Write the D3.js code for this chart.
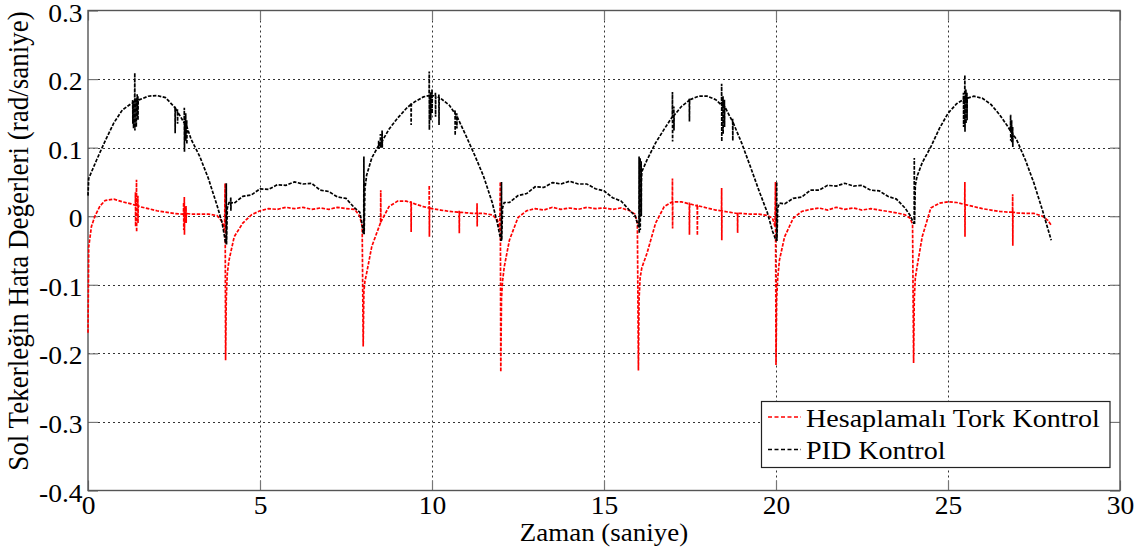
<!DOCTYPE html>
<html><head><meta charset="utf-8">
<script src="https://cdn.jsdelivr.net/npm/d3@7"></script>
<style>body{margin:0;background:#fff}svg{display:block}</style>
</head><body>
<svg id="c" width="1143" height="553"></svg>
<script>
// ---------- data ----------
const xTicks = [0, 5, 10, 15, 20, 25, 30];
const xTickLabels = ["0", "5", "10", "15", "20", "25", "30"];
const yTicks = [-0.4, -0.3, -0.2, -0.1, 0, 0.1, 0.2, 0.3];
const yTickLabels = ["-0.4", "-0.3", "-0.2", "-0.1", "0", "0.1", "0.2", "0.3"];
const seriesNames = ["Hesaplamalı Tork Kontrol", "PID Kontrol"];
const xTitle = "Zaman (saniye)";
const yTitle = "Sol Tekerleğin Hata Değerleri (rad/saniye)";

// PID Kontrol: [time, value]
const pidBase = [
[0,0.030],[0.02,0.055],[0.25,0.082],[0.5,0.110],[0.75,0.136],[1.0,0.155],[1.25,0.164],[1.5,0.170],[1.75,0.175],[2.0,0.176],
[2.25,0.173],[2.5,0.160],[2.75,0.140],[3.0,0.112],[3.25,0.087],[3.5,0.055],[3.75,0.016],[3.9,-0.010],[3.97,-0.030],[4.0,-0.040],
[4.05,0.012],[4.1,0.020],[4.25,0.019],[4.5,0.029],[4.75,0.031],[5.0,0.040],[5.25,0.039],[5.5,0.046],[5.75,0.045],[6.0,0.050],
[6.25,0.047],[6.5,0.048],[6.75,0.038],[7.0,0.036],[7.25,0.028],[7.5,0.026],[7.75,0.012],[7.9,0.006],[7.97,-0.012],[8.0,-0.025],
[8.05,0.040],[8.1,0.060],[8.25,0.085],[8.5,0.107],[8.75,0.127],[9.0,0.143],[9.25,0.157],[9.5,0.167],[9.75,0.174],[10.0,0.176],
[10.25,0.172],[10.5,0.162],[10.75,0.143],[11.0,0.116],[11.25,0.088],[11.5,0.058],[11.75,0.020],[11.9,-0.010],[12.0,-0.035],
[12.05,0.012],[12.1,0.020],[12.25,0.020],[12.5,0.030],[12.75,0.033],[13.0,0.043],[13.25,0.042],[13.5,0.049],[13.75,0.047],[14.0,0.051],
[14.25,0.047],[14.5,0.047],[14.75,0.040],[15.0,0.037],[15.25,0.027],[15.5,0.022],[15.75,0.008],[15.9,0.001],[16.0,-0.015],
[16.1,0.065],[16.25,0.082],[16.5,0.107],[16.75,0.127],[17.0,0.145],[17.25,0.160],[17.5,0.170],[17.75,0.175],[18.0,0.175],
[18.25,0.170],[18.5,0.160],[18.75,0.137],[19.0,0.107],[19.25,0.073],[19.5,0.038],[19.75,0.005],[19.9,-0.022],[20.0,-0.035],
[20.05,0.012],[20.1,0.019],[20.25,0.018],[20.5,0.026],[20.75,0.028],[21.0,0.038],[21.25,0.038],[21.5,0.045],[21.75,0.044],[22.0,0.048],
[22.25,0.044],[22.5,0.045],[22.75,0.038],[23.0,0.037],[23.25,0.029],[23.5,0.025],[23.75,0.012],[23.9,0.001],[24.0,-0.010],
[24.05,0.045],[24.1,0.058],[24.25,0.078],[24.5,0.101],[24.75,0.128],[25.0,0.150],[25.25,0.164],[25.5,0.172],[25.75,0.175],[26.0,0.172],
[26.25,0.163],[26.5,0.148],[26.75,0.130],[27.0,0.111],[27.25,0.082],[27.5,0.048],[27.75,0.008],[28.0,-0.035]
];
// PID spikes: [time, base, high, low]
const pidSpikes = [
[1.30,0.165,0.170,0.135],[1.32,0.166,0.168,0.128],[1.36,0.167,0.209,0.125],[1.40,0.168,0.172,0.130],[1.43,0.168,0.178,0.145],[1.45,0.169,0.175,0.140],
[2.53,0.158,0.160,0.121],[2.60,0.152,0.156,0.135],[2.80,0.136,0.158,0.094],[2.84,0.133,0.150,0.110],[2.87,0.130,0.140,0.105],
[4.02,-0.040,0.048,-0.040],[4.15,0.020,0.028,0.008],[8.02,-0.025,0.087,-0.025],
[8.45,0.103,0.110,0.098],[8.50,0.107,0.120,0.100],[8.55,0.110,0.125,0.100],[9.39,0.163,0.165,0.133],[9.92,0.176,0.211,0.126],
[9.96,0.176,0.182,0.140],[10.0,0.176,0.185,0.150],[10.1,0.175,0.180,0.145],[10.2,0.173,0.178,0.133],[10.67,0.150,0.155,0.118],[10.72,0.146,0.150,0.128],
[12.02,-0.035,0.050,-0.035],
[16.02,-0.015,0.087,-0.025],[16.05,0.030,0.085,-0.020],[16.08,0.050,0.080,0.000],
[16.99,0.145,0.181,0.109],[17.03,0.147,0.160,0.125],[17.48,0.169,0.172,0.138],[18.42,0.162,0.193,0.109],[18.46,0.161,0.175,0.120],
[18.5,0.160,0.170,0.130],[18.74,0.138,0.142,0.110],
[20.02,-0.035,0.050,-0.035],[24.02,-0.010,0.085,-0.010],
[25.45,0.170,0.180,0.130],[25.49,0.171,0.206,0.123],[25.52,0.171,0.185,0.135],[25.55,0.172,0.180,0.140],
[26.82,0.124,0.148,0.110],[26.85,0.122,0.140,0.108],[26.88,0.120,0.130,0.101]
];

// Hesaplamalı Tork Kontrol: [time, value]
const ctcBase = [
[0,-0.170],[0.02,-0.045],[0.1,-0.015],[0.2,0.000],[0.35,0.015],[0.5,0.023],[0.75,0.025],[1.0,0.021],[1.25,0.018],[1.5,0.014],
[1.75,0.011],[2.0,0.008],[2.25,0.006],[2.5,0.004],[2.75,0.003],[3.0,0.003],[3.25,0.003],[3.5,0.003],[3.75,0.001],[3.9,-0.008],
[3.97,-0.020],[3.985,0.048],[4.0,-0.210],[4.02,-0.120],[4.05,-0.083],[4.1,-0.064],[4.25,-0.030],[4.5,-0.010],[4.75,0.002],[5.0,0.008],
[5.25,0.011],[5.5,0.010],[5.75,0.013],[6.0,0.011],[6.25,0.013],[6.5,0.010],[6.75,0.012],[7.0,0.010],[7.25,0.013],[7.5,0.011],
[7.75,0.010],[7.9,0.000],[7.97,-0.015],[8.0,-0.190],[8.02,-0.110],[8.05,-0.095],[8.1,-0.083],[8.25,-0.044],[8.5,-0.010],[8.75,0.014],
[9.0,0.022],[9.25,0.022],[9.5,0.018],[9.75,0.014],[10.0,0.011],[10.25,0.009],[10.5,0.007],[10.75,0.006],[11.0,0.005],[11.25,0.004],
[11.5,0.004],[11.75,0.002],[11.9,-0.005],[11.97,-0.020],[11.985,0.050],[12.0,-0.227],[12.02,-0.120],[12.05,-0.095],[12.1,-0.074],[12.25,-0.035],
[12.5,-0.002],[12.75,0.008],[13.0,0.011],[13.25,0.009],[13.5,0.013],[13.75,0.010],[14.0,0.012],[14.25,0.010],[14.5,0.013],[14.75,0.011],
[15.0,0.012],[15.25,0.010],[15.5,0.012],[15.75,0.008],[15.9,0.003],[15.97,-0.010],[16.0,-0.225],[16.02,-0.120],[16.05,-0.090],[16.1,-0.075],
[16.25,-0.054],[16.5,-0.010],[16.75,0.014],[17.0,0.021],[17.25,0.021],[17.5,0.018],[17.75,0.015],[18.0,0.012],[18.25,0.009],[18.5,0.007],
[18.75,0.005],[19.0,0.004],[19.25,0.003],[19.5,0.003],[19.75,0.001],[19.9,-0.003],[19.97,-0.015],[19.985,0.050],[20.0,-0.217],[20.02,-0.120],
[20.05,-0.090],[20.1,-0.064],[20.25,-0.030],[20.5,-0.003],[20.75,0.007],[21.0,0.010],[21.25,0.012],[21.5,0.009],[21.75,0.013],[22.0,0.010],
[22.25,0.012],[22.5,0.009],[22.75,0.011],[23.0,0.009],[23.25,0.007],[23.5,0.005],[23.75,0.002],[23.9,-0.003],[23.97,-0.012],[24.0,-0.214],
[24.02,-0.120],[24.05,-0.090],[24.1,-0.074],[24.25,-0.030],[24.5,0.012],[24.75,0.019],[25.0,0.021],[25.25,0.020],[25.5,0.017],[25.75,0.014],
[26.0,0.011],[26.25,0.009],[26.5,0.007],[26.75,0.006],[27.0,0.005],[27.25,0.004],[27.5,0.004],[27.75,0.000],[27.9,-0.006],[28.0,-0.013]
];
// Hesaplamalı Tork Kontrol spikes: [time, base, high, low]
const ctcSpikes = [
[1.38,0.016,0.035,-0.015],[1.41,0.016,0.053,-0.023],[1.45,0.015,0.030,-0.010],
[2.78,0.004,0.020,-0.020],[2.80,0.004,0.028,-0.027],[2.85,0.004,0.015,-0.010],
[8.51,-0.008,0.038,-0.010],[9.39,0.020,0.022,-0.023],[9.92,0.012,0.045,-0.030],[10.79,0.006,0.008,-0.025],[11.31,0.004,0.019,-0.015],
[16.99,0.021,0.055,-0.018],[17.48,0.018,0.020,-0.027],[17.71,0.015,0.017,-0.028],[18.42,0.008,0.041,-0.035],[18.88,0.004,0.006,-0.024],
[25.49,0.017,0.050,-0.030],[26.88,0.006,0.032,-0.043]
];

// ---------- drawing ----------
const svg = d3.select("#c");
const L = 88, R = 1120, T = 10.5, B = 490.5;
const x = d3.scaleLinear().domain([0, 30]).range([L, R]);
const y = d3.scaleLinear().domain([-0.4, 0.3]).range([B, T]);
const FONT = "'Liberation Serif','Times New Roman',serif";
const SX = 1.1;

function merge(base, spikes) {
  const pts = base.slice();
  spikes.forEach(s => {
    pts.push([s[0] - 0.004, s[1]], [s[0], s[2]], [s[0] + 0.004, s[3]], [s[0] + 0.008, s[1]]);
  });
  return pts.sort((a, b) => a[0] - b[0]);
}

// grid
const grid = svg.append("g").attr("stroke", "#333").attr("stroke-width", 1).attr("stroke-dasharray", "2,3");
xTicks.filter(t => t > 0 && t < 30).forEach(t => {
  grid.append("line").attr("x1", Math.round(x(t)) + 0.5).attr("x2", Math.round(x(t)) + 0.5).attr("y1", T).attr("y2", B);
});
yTicks.filter(t => t > -0.4 && t < 0.3).forEach(t => {
  grid.append("line").attr("x1", L).attr("x2", R).attr("y1", Math.round(y(t)) + 0.5).attr("y2", Math.round(y(t)) + 0.5);
});

// axes
function styleAxis(g) {
  g.select(".domain").remove();
  g.selectAll(".tick line").attr("stroke", "#777").attr("stroke-width", 1.2);
  g.selectAll("text").attr("font-family", FONT).attr("font-size", 25).attr("fill", "#000");
}
const ax = svg.append("g").attr("transform", `translate(0,${B})`)
  .call(d3.axisBottom(x).tickValues(xTicks).tickFormat((d, i) => xTickLabels[i]).tickSize(-10).tickPadding(6));
styleAxis(ax);
ax.selectAll("text").attr("transform", `scale(${SX},1)`);

const ay = svg.append("g").attr("transform", `translate(${L},0)`)
  .call(d3.axisLeft(y).tickValues(yTicks).tickFormat((d, i) => yTickLabels[i]).tickSize(-10).tickPadding(5));
styleAxis(ay);
ay.selectAll("text").attr("dy", "0.42em").attr("transform", `scale(${SX},1)`);

const at = svg.append("g").attr("transform", `translate(0,${T})`)
  .call(d3.axisTop(x).tickValues(xTicks).tickFormat("").tickSize(-10));
styleAxis(at);
const ar = svg.append("g").attr("transform", `translate(${R},0)`)
  .call(d3.axisRight(y).tickValues(yTicks).tickFormat("").tickSize(-10));
styleAxis(ar);

// frame
svg.append("rect").attr("x", L).attr("y", T).attr("width", R - L).attr("height", B - T)
  .attr("fill", "none").attr("stroke", "#555").attr("stroke-width", 1.4);

// lines
const line = d3.line().x(d => x(d[0])).y(d => y(d[1]));
svg.append("path").datum(merge(ctcBase, ctcSpikes)).attr("d", line)
  .attr("fill", "none").attr("stroke", "#ff0000").attr("stroke-width", 1.7).attr("stroke-dasharray", "3.5,1.5");
svg.append("path").datum(merge(pidBase, pidSpikes)).attr("d", line)
  .attr("fill", "none").attr("stroke", "#000").attr("stroke-width", 1.7).attr("stroke-dasharray", "3.5,1.5");

// titles
svg.append("text").attr("transform", `translate(${(L + R) / 2},541) scale(${SX},1)`)
  .attr("text-anchor", "middle").attr("font-family", FONT).attr("font-size", 24.5).text(xTitle);
svg.append("text").attr("transform", `translate(28,241) scale(${SX},1) rotate(-90)`)
  .attr("text-anchor", "middle").attr("font-family", FONT).attr("font-size", 27).text(yTitle);

// legend
const lg = svg.append("g");
lg.append("rect").attr("x", 761.5).attr("y", 401.5).attr("width", 348.5).attr("height", 66)
  .attr("fill", "#fff").attr("stroke", "#222").attr("stroke-width", 1.2);
const colors = ["#ff0000", "#000"];
seriesNames.forEach((n, i) => {
  const yy = 417 + i * 32.5;
  lg.append("line").attr("x1", 768).attr("x2", 801).attr("y1", yy).attr("y2", yy)
    .attr("stroke", colors[i]).attr("stroke-width", 1.5).attr("stroke-dasharray", "4,2.5");
  lg.append("text").attr("transform", `translate(806,${yy + 9.5}) scale(1.08,1)`)
    .attr("font-family", FONT).attr("font-size", 26).text(n);
});
</script>
</body></html>
